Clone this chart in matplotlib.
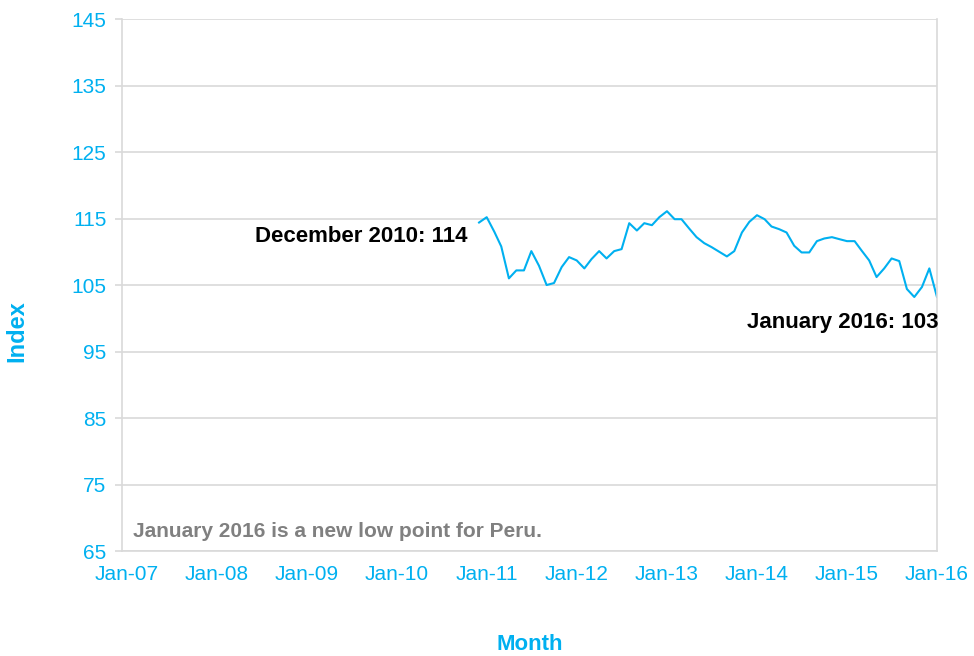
import matplotlib
matplotlib.use("Agg")
import matplotlib.pyplot as plt
import matplotlib.dates as md
import pandas as pd

plt.rcParams['font.family'] = ['Liberation Sans', 'DejaVu Sans']

blue = '#00B0F0'
grey = '#D9D9D9'

# monthly index, Dec 2010 .. Jan 2016
months = pd.date_range('2010-12-01', '2016-01-01', freq='MS')
index_values = [
    114.4, 115.2, 113.0, 110.8, 106.0, 107.2, 107.2, 110.1, 107.9, 105.0,
    105.3, 107.7, 109.2, 108.7, 107.5, 108.9, 110.1, 109.0, 110.1, 110.4,
    114.3, 113.2, 114.3, 114.0, 115.2, 116.1, 114.9, 114.9, 113.5, 112.2,
    111.3, 110.7, 110.0, 109.3, 110.1, 112.9, 114.5, 115.5, 114.9, 113.8,
    113.4, 112.9, 110.9, 109.9, 109.9, 111.6, 112.0, 112.2, 111.9, 111.6,
    111.6, 110.2, 108.7, 106.2, 107.5, 109.0, 108.6, 104.4, 103.2, 104.7,
    107.5, 103.2,
]
y_ticks = [65, 75, 85, 95, 105, 115, 125, 135, 145]
x_ticks = pd.date_range('2007-01-01', '2016-01-01', freq='YS')

fig = plt.figure(figsize=(9.74, 6.56), dpi=100)
ax = fig.add_axes([0.125, 0.16, 0.8375, 0.811])

ax.plot(months, index_values, color=blue, lw=1.5)

ax.set_ylim(65, 145)
ax.set_yticks(y_ticks)
ax.set_xlim(pd.Timestamp('2006-12-13'), pd.Timestamp('2016-01-03'))
ax.set_xticks(x_ticks)
ax.xaxis.set_major_formatter(md.DateFormatter('%b-%y'))

ax.grid(axis='y', color=grey, lw=1.2)
ax.set_axisbelow(True)
for side in ['left', 'bottom', 'right']:
    ax.spines[side].set_color(grey)
    ax.spines[side].set_linewidth(1.2)
ax.spines['top'].set_visible(False)

ax.tick_params(axis='y', colors=grey, labelcolor=blue, labelsize=15, length=5, width=1.2, pad=6)
ax.tick_params(axis='x', labelcolor=blue, labelsize=15, length=0, pad=10)

ax.set_ylabel('Index', color=blue, fontsize=17, fontweight='bold')
ax.yaxis.set_label_coords(-0.114, 0.4135)
ax.set_xlabel('Month', color=blue, fontsize=16, fontweight='bold', labelpad=36)

ax.annotate('December 2010: 114', xy=(months[0], index_values[0]),
            xytext=(-8, -10), textcoords='offset points',
            ha='right', va='center', fontsize=16, fontweight='bold', color='black')
ax.annotate('January 2016: 103', xy=(months[-1], index_values[-1]),
            xytext=(1, -18), textcoords='offset points',
            ha='right', va='center', fontsize=16, fontweight='bold', color='black')
ax.text(0.014, 0.026, 'January 2016 is a new low point for Peru.', transform=ax.transAxes,
        fontsize=15, fontweight='bold', color='#808080')

fig.savefig('out.png', dpi=100)
